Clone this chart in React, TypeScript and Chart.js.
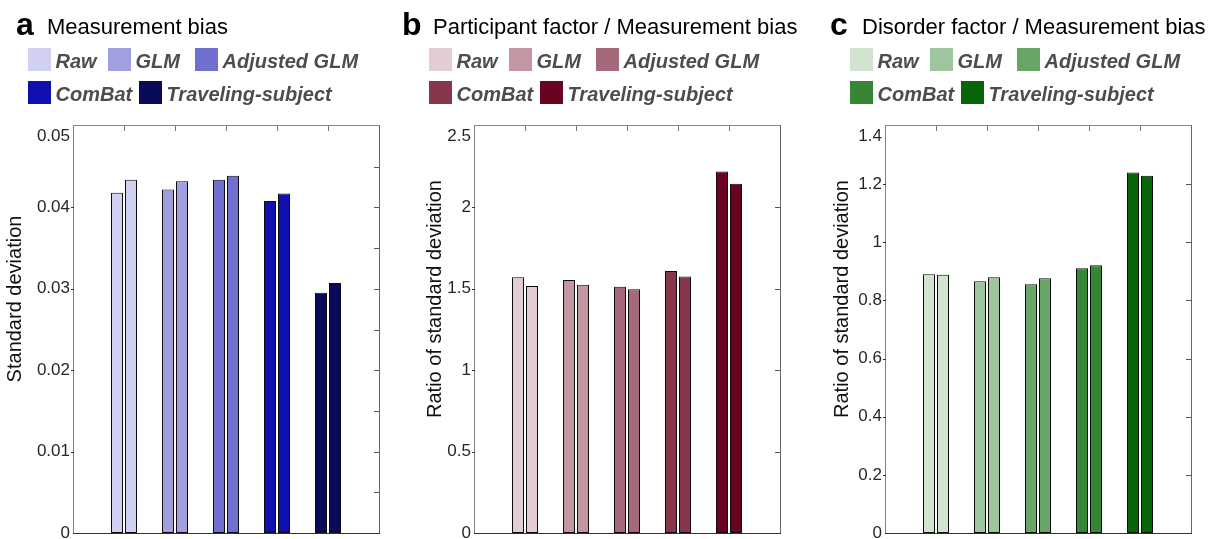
import React, { useEffect, useRef } from "react";
import { Chart, registerables } from "chart.js";

Chart.register(...registerables);

// ---- data ----
const categories = ["Raw", "GLM", "Adjusted GLM", "ComBat", "Traveling-subject"];

const panelATitle = "Measurement bias";
const panelBTitle = "Participant factor / Measurement bias";
const panelCTitle = "Disorder factor / Measurement bias";

const panelAYLabel = "Standard deviation";
const panelBYLabel = "Ratio of standard deviation";
const panelCYLabel = "Ratio of standard deviation";

const panelAFirst = [0.0418, 0.0422, 0.0434, 0.0408, 0.0295];
const panelASecond = [0.0434, 0.0432, 0.0439, 0.0417, 0.0307];
const panelBFirst = [1.571, 1.554, 1.513, 1.609, 2.22];
const panelBSecond = [1.517, 1.525, 1.497, 1.575, 2.145];
const panelCFirst = [0.89, 0.866, 0.856, 0.911, 1.24];
const panelCSecond = [0.888, 0.88, 0.876, 0.921, 1.229];

const panelAColors = ["#d0d0f0", "#a0a0e0", "#7070d0", "#1010b0", "#0a0a5a"];
const panelBColors = ["#e3cdd5", "#c496a2", "#a6697a", "#87364c", "#680420"];
const panelCColors = ["#d0e4d0", "#9ec59e", "#68a668", "#368636", "#066608"];

const panelAYMax = 0.05;
const panelAYStep = 0.01;
const panelARightStep = 0.005;
const panelBYMax = 2.5;
const panelBYStep = 0.5;
const panelCYMax = 1.4;
const panelCYStep = 0.2;

const FONT = '"Liberation Sans", Arial, Helvetica, sans-serif';

type PanelCfg = {
  key: string;
  letter: string;
  title: string;
  yLabel: string;
  first: number[];
  second: number[];
  colors: string[];
  yMax: number;
  yStep: number;
  rightStep: number;
  canvasLeft: number;
  canvasWidth: number;
  plotLeft: number;
  plotRight: number;
  yTitleX: number;
  letterX: number;
  titleX: number;
  legendX: number;
};

const panels: PanelCfg[] = [
  {
    key: "a", letter: "a", title: panelATitle, yLabel: panelAYLabel,
    first: panelAFirst, second: panelASecond, colors: panelAColors,
    yMax: panelAYMax, yStep: panelAYStep, rightStep: panelARightStep,
    canvasLeft: 0, canvasWidth: 400, plotLeft: 73, plotRight: 379,
    yTitleX: 15.5, letterX: 16, titleX: 47, legendX: 28,
  },
  {
    key: "b", letter: "b", title: panelBTitle, yLabel: panelBYLabel,
    first: panelBFirst, second: panelBSecond, colors: panelBColors,
    yMax: panelBYMax, yStep: panelBYStep, rightStep: panelBYStep,
    canvasLeft: 400, canvasWidth: 415, plotLeft: 474, plotRight: 780,
    yTitleX: 35.5, letterX: 402, titleX: 433, legendX: 429,
  },
  {
    key: "c", letter: "c", title: panelCTitle, yLabel: panelCYLabel,
    first: panelCFirst, second: panelCSecond, colors: panelCColors,
    yMax: panelCYMax, yStep: panelCYStep, rightStep: panelCYStep,
    canvasLeft: 815, canvasWidth: 400, plotLeft: 885, plotRight: 1191,
    yTitleX: 27.5, letterX: 830, titleX: 862, legendX: 850,
  },
];

const PLOT_TOP = 126;
const PLOT_BOTTOM = 533;
const HEIGHT = 539;

const fmt = (v: number) => String(Math.round(v * 1e6) / 1e6);

function Panel({ cfg }: { cfg: PanelCfg }) {
  const ref = useRef<HTMLCanvasElement | null>(null);
  useEffect(() => {
    if (!ref.current) return;
    const axisW = cfg.plotLeft - cfg.canvasLeft;
    const padR = cfg.canvasLeft + cfg.canvasWidth - cfg.plotRight;
    const deco = {
      id: "deco" + cfg.key,
      afterDraw(chart: any) {
        const { ctx, chartArea: ca } = chart;
        const x = chart.scales.x;
        const y = chart.scales.y;
        ctx.save();
        ctx.lineWidth = 1;
        // box
        ctx.strokeStyle = "#8a8a8a";
        ctx.beginPath();
        ctx.moveTo(ca.left, ca.top - 0.5);
        ctx.lineTo(ca.right + 1, ca.top - 0.5);
        ctx.stroke();
        ctx.strokeStyle = "#666666";
        ctx.beginPath();
        ctx.moveTo(ca.right + 0.5, ca.top - 1);
        ctx.lineTo(ca.right + 0.5, ca.bottom + 1);
        ctx.stroke();
        ctx.strokeStyle = "#808080";
        ctx.beginPath();
        ctx.moveTo(ca.left + 0.5, ca.top - 1);
        ctx.lineTo(ca.left + 0.5, ca.bottom + 1);
        ctx.stroke();
        ctx.strokeStyle = "#333333";
        ctx.beginPath();
        ctx.moveTo(ca.left, ca.bottom + 0.5);
        ctx.lineTo(ca.right + 1, ca.bottom + 0.5);
        ctx.stroke();
        // top ticks (inward)
        ctx.strokeStyle = "#777777";
        categories.forEach((_, i) => {
          const px = Math.round(x.getPixelForValue(i + 1)) + 0.5;
          ctx.beginPath();
          ctx.moveTo(px, ca.top);
          ctx.lineTo(px, ca.top + 5);
          ctx.stroke();
        });
        // right ticks (inward)
        ctx.strokeStyle = "#555555";
        const n = Math.round(cfg.yMax / cfg.rightStep);
        for (let k = 1; k < n; k++) {
          const py = Math.round(y.getPixelForValue(k * cfg.rightStep)) + 0.5;
          ctx.beginPath();
          ctx.moveTo(ca.right, py);
          ctx.lineTo(ca.right - 5, py);
          ctx.stroke();
        }
        // left ticks (outward)
        ctx.strokeStyle = "#333333";
        y.ticks.forEach((t: any) => {
          if (t.value <= 0 || t.value >= cfg.yMax - 1e-9) return;
          const py = Math.round(y.getPixelForValue(t.value)) + 0.5;
          ctx.beginPath();
          ctx.moveTo(ca.left - 2, py);
          ctx.lineTo(ca.left + 1, py);
          ctx.stroke();
        });
        // top tick label, nudged inside like the original
        ctx.fillStyle = "#262626";
        ctx.font = `17px ${FONT}`;
        ctx.textAlign = "right";
        ctx.textBaseline = "middle";
        ctx.fillText(fmt(cfg.yMax), ca.left - 3, ca.top + 10);
        // y title
        ctx.translate(cfg.yTitleX, 299);
        ctx.rotate(-Math.PI / 2);
        ctx.textAlign = "center";
        ctx.textBaseline = "middle";
        ctx.fillStyle = "#111111";
        ctx.font = `20px ${FONT}`;
        ctx.fillText(cfg.yLabel, 0, 0);
        ctx.restore();
      },
    };
    const chart = new Chart(ref.current, {
      type: "bar",
      data: {
        datasets: [
          {
            label: "first",
            data: cfg.first.map((v, i) => ({ x: i + 1, y: v })),
            backgroundColor: cfg.colors,
            borderColor: "#0d0d0d",
            borderWidth: 1,
            borderSkipped: false,
          },
          {
            label: "second",
            data: cfg.second.map((v, i) => ({ x: i + 1, y: v })),
            backgroundColor: cfg.colors,
            borderColor: "#0d0d0d",
            borderWidth: 1,
            borderSkipped: false,
          },
        ],
      },
      options: {
        animation: false,
        responsive: false,
        devicePixelRatio: 1,
        layout: { padding: { left: 0, top: PLOT_TOP, right: padR, bottom: HEIGHT - PLOT_BOTTOM } },
        datasets: { bar: { categoryPercentage: 28 / 51, barPercentage: 12 / 14 } },
        plugins: { legend: { display: false }, tooltip: { enabled: false }, title: { display: false } },
        scales: {
          x: {
            type: "linear",
            min: 0,
            max: categories.length + 1,
            offset: false,
            ticks: { display: false, stepSize: 1 },
            grid: { display: false, drawTicks: false },
            border: { display: false },
            afterFit: (s: any) => {
              s.height = 0;
              s.paddingLeft = 0;
              s.paddingRight = 0;
            },
          },
          y: {
            min: 0,
            max: cfg.yMax,
            ticks: {
              stepSize: cfg.yStep,
              padding: 3,
              color: "#262626",
              font: { family: FONT, size: 17 },
              callback: (v: any) => (Math.abs(v - cfg.yMax) < 1e-9 ? "" : fmt(Number(v))),
            },
            grid: { display: false, drawTicks: false },
            border: { display: false },
            afterFit: (s: any) => {
              s.width = axisW;
              s.paddingTop = 0;
              s.paddingBottom = 0;
            },
          },
        },
      } as any,
      plugins: [deco],
    });
    return () => chart.destroy();
  }, [cfg]);

  const rows = [
    [0, 80, 167],
    [0, 111],
  ];
  const rowTops = [48, 81];
  let idx = 0;
  const legendItems: React.ReactNode[] = [];
  rows.forEach((row, r) => {
    row.forEach((off) => {
      const i = idx++;
      const left = cfg.legendX + off;
      legendItems.push(
        <div key={`sq${i}`} style={{ position: "absolute", left, top: rowTops[r], width: 23, height: 23, background: cfg.colors[i] }} />
      );
      legendItems.push(
        <div
          key={`tx${i}`}
          style={{
            position: "absolute",
            left: left + 27.5,
            top: rowTops[r] + 19.7 - 16.9,
            fontFamily: FONT,
            fontSize: 20,
            lineHeight: "20px",
            fontWeight: "bold",
            fontStyle: "italic",
            color: "#4d4d4d",
            whiteSpace: "nowrap",
          }}
        >
          {categories[i]}
        </div>
      );
    });
  });

  return (
    <>
      <canvas
        ref={ref}
        width={cfg.canvasWidth}
        height={HEIGHT}
        style={{ position: "absolute", left: cfg.canvasLeft, top: 0, width: cfg.canvasWidth, height: HEIGHT }}
      />
      <div style={{ position: "absolute", left: cfg.letterX, top: 35 - 0.8465 * 32, fontFamily: FONT, fontSize: 32, lineHeight: "32px", fontWeight: "bold", color: "#000", whiteSpace: "nowrap" }}>
        {cfg.letter}
      </div>
      <div style={{ position: "absolute", left: cfg.titleX, top: 35 - 0.8465 * 22, fontFamily: FONT, fontSize: 22, lineHeight: "22px", color: "#000", whiteSpace: "nowrap" }}>
        {cfg.title}
      </div>
      {legendItems}
    </>
  );
}

export default function App() {
  return (
    <div style={{ position: "absolute", left: 0, top: 0, width: 1215, height: HEIGHT, background: "#ffffff", overflow: "hidden" }}>
      {panels.map((p) => (
        <Panel key={p.key} cfg={p} />
      ))}
    </div>
  );
}
